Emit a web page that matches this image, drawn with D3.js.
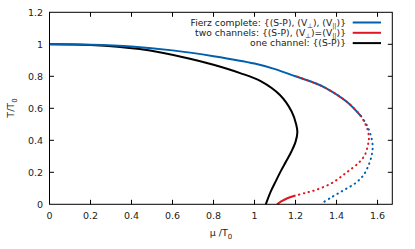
<!DOCTYPE html>
<html>
<head>
<meta charset="utf-8" />
<style>
  body { margin: 0; background: #fff; }
  svg text { font-family: "DejaVu Sans", sans-serif; font-size: 9.5px; fill: #222; }
</style>
</head>
<body>
<div id="chart"></div>
<script src="https://cdn.jsdelivr.net/npm/d3@7"></script>
<script>
// data: [mu/T0, T/T0]
var fierzSolid = [[0,1],[0.2,0.997],[0.4,0.986],[0.6,0.962],[0.8,0.926],[1.0,0.88],[1.1,0.845],[1.2,0.8],
  [1.3,0.755],[1.35,0.725],[1.45,0.641],[1.52,0.55]];
var fierzDotted = [[1.52,0.55],[1.547,0.496],[1.565,0.44],[1.576,0.37],[1.572,0.31],[1.555,0.24],
  [1.53,0.18],[1.49,0.13],[1.43,0.085],[1.37,0.04],[1.335,0.012]];
var twoDotted = [[1.21,0.797],[1.3,0.755],[1.35,0.725],[1.45,0.641],[1.515,0.558],[1.539,0.506],
  [1.553,0.46],[1.558,0.41],[1.553,0.37],[1.539,0.31],[1.51,0.262],[1.45,0.2],[1.38,0.135],
  [1.3,0.09],[1.25,0.072],[1.2,0.055]];
var twoSolid = [[1.2,0.055],[1.16,0.038],[1.13,0.018],[1.11,0]];
var oneSolid = [[0,1],[0.2,0.996],[0.44,0.97],[0.685,0.91],[0.8,0.872],[0.93,0.82],[1.03,0.77],
  [1.124,0.683],[1.181,0.58],[1.203,0.5],[1.209,0.45],[1.2,0.39],[1.18,0.33],[1.155,0.27],
  [1.13,0.212],[1.105,0.148],[1.08,0.082],[1.055,0]];

var xTicks = [0,0.2,0.4,0.6,0.8,1,1.2,1.4,1.6];
var yTicks = [0,0.2,0.4,0.6,0.8,1,1.2];

var legendNames = [
  ["Fierz complete: {(S-P), (V", "⊥", "), (V", "||", ")}"],
  ["two channels: {(S-P), (V", "⊥", ")=(V", "||", ")}"],
  ["one channel: {(S-P)}"]
];
var legendColors = ["#0060ad", "#dd181f", "#000"];

(function () {
  var width = 415, height = 249;
  var mLeft = 49.5, mRight = 392.3, mTop = 12.3, mBottom = 204.3;

  var x = d3.scaleLinear().domain([0, 1.672]).range([mLeft, mRight]);
  var y = d3.scaleLinear().domain([0, 1.2]).range([mBottom, mTop]);

  var svg = d3.select("#chart").append("svg")
    .attr("width", width).attr("height", height);

  var line = d3.line()
    .x(d => x(d[0])).y(d => y(d[1]))
    .curve(d3.curveCatmullRom.alpha(0.5));

  // ticks (inward, mirrored)
  var tl = 4.5;
  var g = svg.append("g").attr("stroke", "#000").attr("stroke-width", 1);
  xTicks.forEach(function (t) {
    if (t > 0) {
      g.append("line").attr("x1", x(t)).attr("x2", x(t)).attr("y1", mBottom).attr("y2", mBottom - tl);
      g.append("line").attr("x1", x(t)).attr("x2", x(t)).attr("y1", mTop).attr("y2", mTop + tl);
    }
  });
  yTicks.forEach(function (t) {
    if (t > 0 && t < 1.2) {
      g.append("line").attr("x1", mLeft).attr("x2", mLeft + tl).attr("y1", y(t)).attr("y2", y(t));
      g.append("line").attr("x1", mRight).attr("x2", mRight - tl).attr("y1", y(t)).attr("y2", y(t));
    }
  });

  svg.append("g").selectAll("text").data(xTicks).join("text")
    .attr("x", d => x(d)).attr("y", 219)
    .attr("text-anchor", "middle")
    .text(d => d3.format("")(d));

  svg.append("g").selectAll("text").data(yTicks).join("text")
    .attr("x", 43).attr("y", d => y(d) + 3.5)
    .attr("text-anchor", "end")
    .text(d => d3.format("")(d));

  // axis labels
  var xl = svg.append("text").attr("x", 221).attr("y", 236).attr("text-anchor", "middle");
  xl.append("tspan").text("μ /T");
  xl.append("tspan").attr("font-size", "7px").attr("dy", 2.5).text("0");

  var yl = svg.append("text").attr("transform", "translate(14,108) rotate(-90)").attr("text-anchor", "middle");
  yl.append("tspan").text("T/T");
  yl.append("tspan").attr("font-size", "7px").attr("dy", 2.5).text("0");

  // curves
  var plot = svg.append("g").attr("fill", "none").attr("stroke-width", 2);
  plot.append("path").attr("d", line(oneSolid)).attr("stroke", legendColors[2]);
  plot.append("path").attr("d", line(twoSolid)).attr("stroke", legendColors[1]);
  plot.append("path").attr("d", line(fierzSolid)).attr("stroke", legendColors[0]);
  plot.append("path").attr("d", line(fierzDotted)).attr("stroke", legendColors[0])
    .attr("stroke-dasharray", "0.5 4.5").attr("stroke-linecap", "round");
  plot.append("path").attr("d", line(twoDotted)).attr("stroke", legendColors[1])
    .attr("stroke-dasharray", "0.5 4.5").attr("stroke-linecap", "round");

  // frame
  svg.append("rect").attr("x", mLeft).attr("y", mTop)
    .attr("width", mRight - mLeft).attr("height", mBottom - mTop)
    .attr("fill", "none").attr("stroke", "#000").attr("stroke-width", 1);

  // legend
  var ly = [22.5, 32.8, 43.1];
  legendNames.forEach(function (parts, i) {
    var t = svg.append("text").attr("x", 346).attr("y", ly[i] + 3.3)
      .attr("text-anchor", "end").style("font-size", "9.2px");
    parts.forEach(function (p, j) {
      if (j % 2 === 1) {
        t.append("tspan").attr("font-size", "6.5px").attr("dy", 1.8).text(p);
      } else {
        t.append("tspan").attr("dy", j > 0 ? -1.8 : 0).text(p);
      }
    });
    svg.append("line").attr("x1", 352.7).attr("x2", 381).attr("y1", ly[i]).attr("y2", ly[i])
      .attr("stroke", legendColors[i]).attr("stroke-width", 2);
  });
})();
</script>
</body>
</html>
